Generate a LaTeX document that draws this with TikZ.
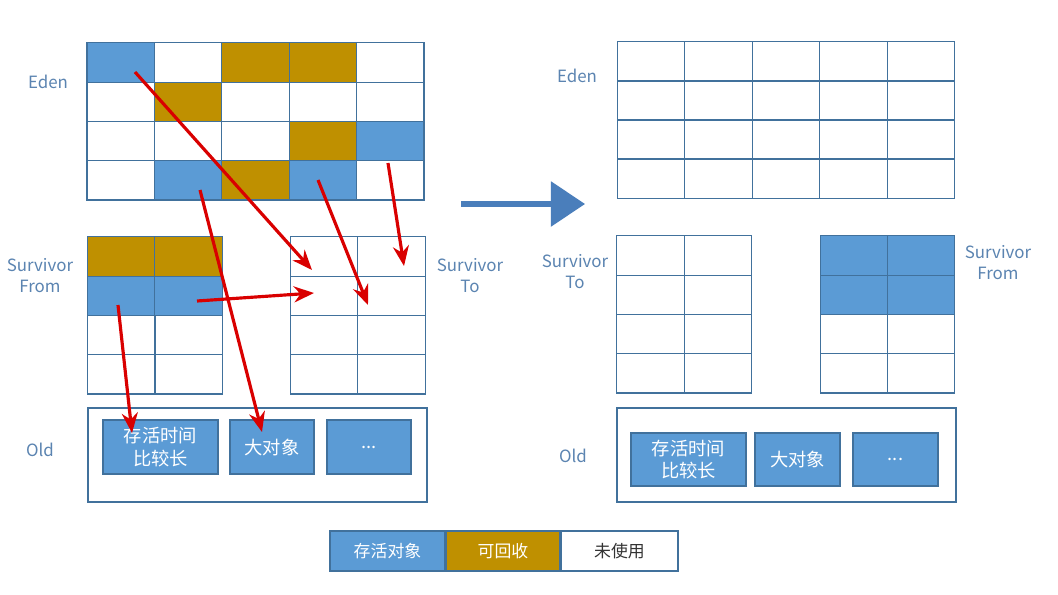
\documentclass[tikz,border=0pt]{standalone}
\usepackage{fontspec}
\setmainfont{Noto Sans CJK SC}
\usetikzlibrary{arrows.meta}
\definecolor{live}{HTML}{5B9BD5}
\definecolor{dead}{HTML}{BF9000}
\definecolor{cellline}{HTML}{41719C}
\definecolor{lbl}{HTML}{5B84B1}
\definecolor{bigarrow}{HTML}{4A7EBB}
\tikzset{
  cell/.style={draw=cellline, line width=0.3pt, minimum width=6.74mm, minimum height=3.925mm, inner sep=0pt, outer sep=0pt},
  live/.style={cell, fill=live},
  dead/.style={cell, fill=dead},
  scell/.style={cell, minimum width=6.72mm},
  area/.style={draw=cellline, line width=0.3pt},
  objbox/.style={draw=cellline, fill=live, text=white, inner sep=0pt, align=center, font=\fontsize{5.2}{6.5}\selectfont},
  lab/.style={text=lbl, align=center, font=\fontsize{4.8}{6}\selectfont},
  move/.style={-{Stealth[length=2mm,width=1.6mm]}, draw=red!85!black, line width=0.9pt}
}
\begin{document}
\begin{tikzpicture}[x=0.01cm,y=-0.01cm]
\useasboundingbox[fill=white] (0,0) rectangle (1058,594);

% left eden
\foreach \r in {0,...,3}
  \foreach \c in {0,...,4}
    \node[cell] (le-\r\c) at ({120.7+67.4*\c},{62.6+39.25*\r}) {};
\foreach \r/\c/\s in {0/0/live,0/2/dead,0/3/dead,1/1/dead,2/3/dead,2/4/live,3/1/live,3/2/dead,3/3/live}
  \node[\s] at (le-\r\c) {};
% left survivors
\foreach \r in {0,...,3}
  \foreach \c in {0,1} {
    \node[scell] (lf-\r\c) at ({121.5+67*\c},{256.6+39.25*\r}) {};
    \node[scell] (lt-\r\c) at ({324+67.5*\c},{256.6+39.25*\r}) {};
  }
\foreach \r/\c/\s in {0/0/dead,0/1/dead,1/0/live,1/1/live}
  \node[\s, minimum width=6.72mm] at (lf-\r\c) {};
% left old
\draw[area] (88,408) rectangle (427,502);
\node[objbox, minimum width=11.5mm, minimum height=5.4mm] (lo-a) at (160.5,447) {存活时间\\比较长};
\node[objbox, minimum width=8.4mm, minimum height=5.4mm] (lo-b) at (272,447) {大对象};
\node[objbox, minimum width=8.4mm, minimum height=5.4mm] (lo-c) at (369,447) {...};

% right eden
\foreach \r in {0,...,3}
  \foreach \c in {0,...,4}
    \node[cell] (re-\r\c) at ({650.8+67.6*\c},{61.5+39*\r}) {};
% right survivors
\foreach \r in {0,...,3}
  \foreach \c in {0,1} {
    \node[scell] (rt-\r\c) at ({650.5+67.5*\c},{255.6+39.25*\r}) {};
    \node[scell] (rf-\r\c) at ({853.7+67.5*\c},{255.6+39.25*\r}) {};
  }
\foreach \r/\c in {0/0,0/1,1/0,1/1}
  \node[live, minimum width=6.72mm] at (rf-\r\c) {};
% right old
\draw[area] (617,408) rectangle (956,502);
\node[objbox, minimum width=11.5mm, minimum height=5.3mm] (ro-a) at (688.5,459.5) {存活时间\\比较长};
\node[objbox, minimum width=8.5mm, minimum height=5.3mm] (ro-b) at (797.5,459.5) {大对象};
\node[objbox, minimum width=8.5mm, minimum height=5.3mm] (ro-c) at (895.5,459.5) {...};

% labels
\node[lab] at (48,82) {Eden};
\node[lab] at (40,276) {Survivor\\From};
\node[lab] at (470,276) {Survivor\\To};
\node[lab] at (40,450) {Old};
\node[lab] at (577,76) {Eden};
\node[lab] at (575,272) {Survivor\\To};
\node[lab] at (998,263) {Survivor\\From};
\node[lab] at (573,456) {Old};

% big arrow
\coordinate (ga) at (461,204);
\coordinate (gb) at (585,204);
\draw[-{Triangle[length=3.4mm,width=4.4mm]}, draw=bigarrow, line width=1.6pt] (ga) -- (gb);

% moves
\coordinate (m1) at (135,72);   \coordinate (n1) at (312,270);
\coordinate (m2) at (200,190);  \coordinate (n2) at (262,432);
\coordinate (m3) at (318,180);  \coordinate (n3) at (368,305);
\coordinate (m4) at (388,163);  \coordinate (n4) at (404,266);
\coordinate (m5) at (197,301);  \coordinate (n5) at (314,293);
\coordinate (m6) at (118,305);  \coordinate (n6) at (132,433);
\foreach \i in {1,...,6}
  \draw[move] (m\i) -- (n\i);

% legend
\node[objbox, minimum width=11.5mm, minimum height=4mm, font=\fontsize{4.8}{6}\selectfont] (k-live) at (387.5,551) {存活对象};
\node[objbox, fill=dead, minimum width=11.3mm, minimum height=4mm, font=\fontsize{4.8}{6}\selectfont, anchor=west] (k-dead) at (k-live.east) {可回收};
\node[objbox, fill=white, text=black!80, minimum width=11.7mm, minimum height=4mm, font=\fontsize{4.8}{6}\selectfont, anchor=west] (k-free) at (k-dead.east) {未使用};
\end{tikzpicture}
\end{document}
